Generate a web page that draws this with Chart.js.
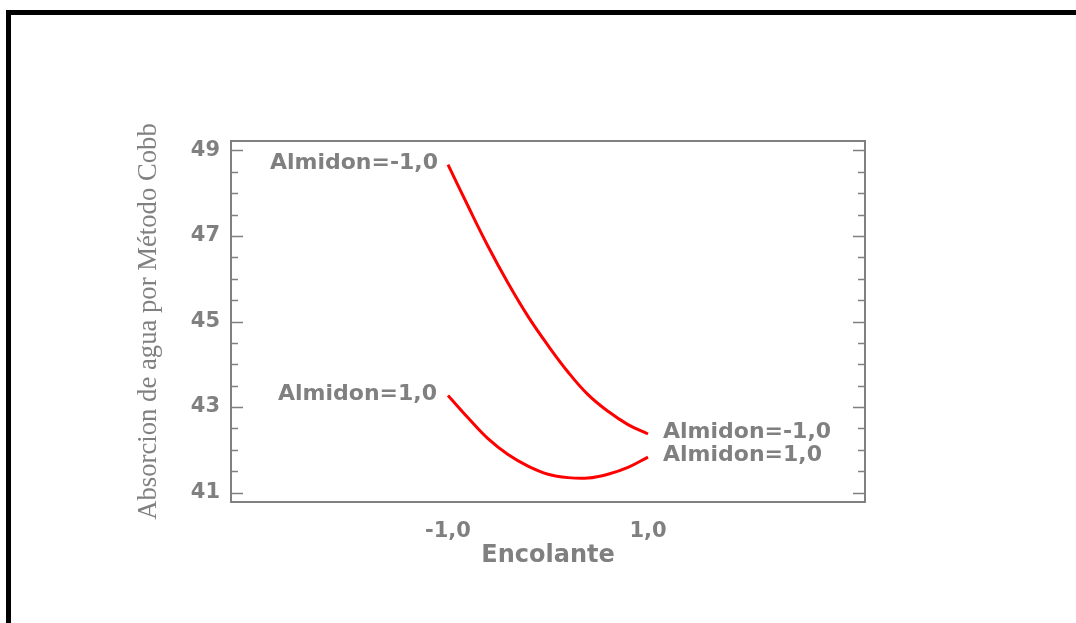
<!DOCTYPE html>
<html>
<head>
<meta charset="utf-8">
<script src="https://cdn.jsdelivr.net/npm/chart.js@4/dist/chart.umd.min.js"></script>
<style>
  html, body { margin: 0; padding: 0; background: #fff; }
  #wrap { width: 1076px; height: 623px; }
</style>
</head>
<body>
<div id="wrap"><canvas id="grafico" width="1076" height="623"></canvas></div>
<script>
// datos
const encolante = [-1, -0.8, -0.6, -0.4, -0.2, 0, 0.2, 0.4, 0.6, 0.8, 1];
const almidonMenos = [48.67, 47.70, 46.76, 45.90, 45.12, 44.44, 43.82, 43.29, 42.90, 42.59, 42.37];
const almidonMas = [43.27, 42.75, 42.26, 41.89, 41.62, 41.43, 41.35, 41.34, 41.43, 41.59, 41.83];

const yMayores = [41, 43, 45, 47, 49];
const yMenores = [41.5, 42, 42.5, 43.5, 44, 44.5, 45.5, 46, 46.5, 47.5, 48, 48.5];
const xTicks = [-1, 1];
const xEtiquetas = ['-1,0', '1,0'];
const etiquetaMenos = 'Almidon=-1,0';
const etiquetaMas = 'Almidon=1,0';

const GRIS = '#808080';

const puntos = arr => encolante.map((x, i) => ({ x: x, y: arr[i] }));

// marco negro + caja del grafico + marcas hacia dentro + etiquetas
const extras = {
    id: 'extras',
    beforeDraw(chart) {
        const ctx = chart.ctx;
        ctx.save();
        ctx.fillStyle = '#000';
        ctx.fillRect(6, 10, 1076, 5);
        ctx.fillRect(6, 10, 5, 623);
        ctx.restore();
    },
    afterDatasetsDraw(chart) {
        const ctx = chart.ctx;
        const a = chart.chartArea;
        const ys = chart.scales.y, xs = chart.scales.x;
        ctx.save();
        ctx.strokeStyle = GRIS;
        ctx.lineWidth = 2;
        ctx.strokeRect(a.left, a.top, a.right - a.left, a.bottom - a.top);

        const marca = (v, largo) => {
            const py = Math.round(ys.getPixelForValue(v)) + 0.5;
            ctx.beginPath();
            ctx.moveTo(a.left, py); ctx.lineTo(a.left + largo, py);
            ctx.moveTo(a.right, py); ctx.lineTo(a.right - largo, py);
            ctx.stroke();
        };
        ctx.lineWidth = 1.5;
        yMayores.forEach(v => marca(v, 12));
        yMenores.forEach(v => marca(v, 7));

        // etiquetas de las curvas
        ctx.fillStyle = GRIS;
        ctx.font = 'bold 22px "DejaVu Sans"';
        ctx.textBaseline = 'middle';
        const n = encolante.length - 1;
        ctx.textAlign = 'right';
        ctx.fillText(etiquetaMenos, xs.getPixelForValue(encolante[0]) - 10, ys.getPixelForValue(almidonMenos[0]) - 1);
        ctx.fillText(etiquetaMas, xs.getPixelForValue(encolante[0]) - 11, ys.getPixelForValue(almidonMas[0]) - 1);
        ctx.textAlign = 'left';
        ctx.fillText(etiquetaMenos, xs.getPixelForValue(encolante[n]) + 15, ys.getPixelForValue(almidonMenos[n]) - 2);
        ctx.fillText(etiquetaMas, xs.getPixelForValue(encolante[n]) + 15, ys.getPixelForValue(almidonMas[n]) - 1.5);
        ctx.restore();
    }
};

new Chart(document.getElementById('grafico'), {
    type: 'line',
    data: {
        datasets: [
            { label: etiquetaMenos, data: puntos(almidonMenos), borderColor: '#ff0000', borderWidth: 3, pointRadius: 0, tension: 0.4, fill: false },
            { label: etiquetaMas, data: puntos(almidonMas), borderColor: '#ff0000', borderWidth: 3, pointRadius: 0, tension: 0.4, fill: false }
        ]
    },
    options: {
        responsive: false,
        animation: false,
        events: [],
        layout: { padding: { left: 118, top: 141, right: 211, bottom: 0 } },
        plugins: { legend: { display: false }, tooltip: { enabled: false } },
        scales: {
            x: {
                type: 'linear', min: -3.17, max: 3.17,
                afterBuildTicks: s => { s.ticks = xTicks.map(v => ({ value: v })); },
                afterFit: s => { s.height = 121; },
                grid: { display: false, drawTicks: false },
                border: { display: false },
                ticks: {
                    color: GRIS, padding: 17, maxRotation: 0, autoSkip: false,
                    font: { family: '"DejaVu Sans"', size: 21, weight: 'bold' },
                    callback: v => xEtiquetas[xTicks.indexOf(v)]
                },
                title: {
                    display: true, text: 'Encolante', color: GRIS,
                    font: { family: '"DejaVu Sans"', size: 24, weight: 'bold' },
                    padding: { top: 0, bottom: 53 }
                }
            },
            y: {
                type: 'linear', min: 40.78, max: 49.22,
                afterBuildTicks: s => { s.ticks = yMayores.map(v => ({ value: v })); },
                afterFit: s => { s.width = 113; },
                grid: { display: false, drawTicks: false },
                border: { display: false },
                ticks: {
                    color: GRIS, padding: 11, autoSkip: false,
                    font: { family: '"DejaVu Sans"', size: 21, weight: 'bold' }
                },
                title: {
                    display: true, text: 'Absorcion de agua por Método Cobb', color: GRIS,
                    font: { family: '"Liberation Serif"', size: 26.7, weight: 'normal' },
                    padding: { top: 15, bottom: 0 }
                }
            }
        }
    },
    plugins: [extras]
});
</script>
</body>
</html>
